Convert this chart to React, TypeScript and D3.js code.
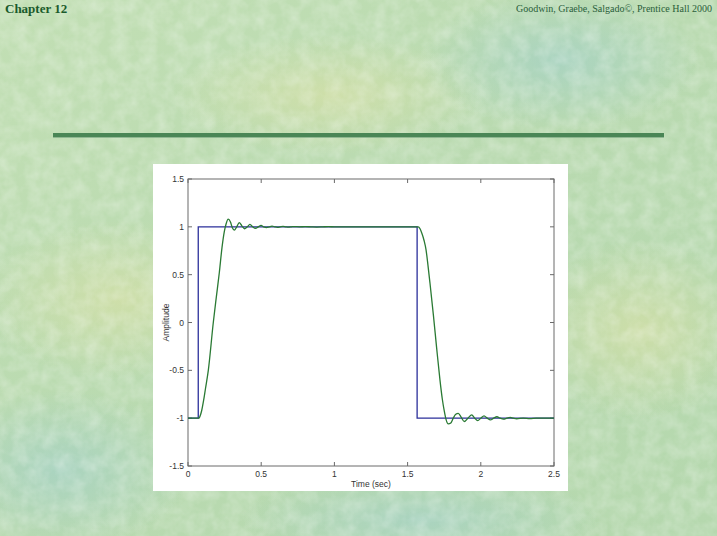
import React from "react";
import * as d3 from "d3";

const W = 717;
const H = 536;

// Axis ticks
const xTicks = [0, 0.5, 1, 1.5, 2, 2.5];
const yTicks = [-1.5, -1, -0.5, 0, 0.5, 1, 1.5];
const xTickLabels = ["0", "0.5", "1", "1.5", "2", "2.5"];
const yTickLabels = ["-1.5", "-1", "-0.5", "0", "0.5", "1", "1.5"];

// Reference square wave (blue)
const refT = [0, 0.07, 0.07, 1.565, 1.565, 2.5];
const refY = [-1, -1, 1, 1, -1, -1];

// System response (green)
const respT = [
  0, 0.075, 0.082, 0.0936, 0.106, 0.1195, 0.1387, 0.1728, 0.193, 0.2138, 0.232, 0.248, 0.26,
  0.275, 0.29, 0.303, 0.316, 0.333, 0.35, 0.368, 0.386, 0.405, 0.423, 0.442, 0.461, 0.48,
  0.499, 0.517, 0.536, 0.555, 0.574, 0.593, 0.611, 0.63, 0.649, 0.668, 0.687, 0.706, 0.725,
  0.76, 0.8, 0.84, 0.88, 0.92, 0.96, 1.0, 1.3, 1.573, 1.585, 1.598, 1.612, 1.626, 1.639,
  1.653, 1.676, 1.698, 1.721, 1.737, 1.751, 1.762, 1.778, 1.795, 1.812, 1.829, 1.846, 1.866,
  1.887, 1.912, 1.938, 1.958, 1.979, 2.0, 2.022, 2.044, 2.066, 2.088, 2.11, 2.132, 2.155,
  2.178, 2.2, 2.222, 2.245, 2.29, 2.335, 2.38, 2.5,
];
const respY = [
  -1, -1, -0.98, -0.92, -0.82, -0.69, -0.5, 0, 0.26, 0.52, 0.78, 0.95, 1.03,
  1.08, 1.05, 0.99, 0.965, 1.0, 1.045, 1.01, 0.98, 1.0, 1.025, 1.0, 0.985, 1.0,
  1.015, 1.0, 0.992, 1.0, 1.008, 1.0, 0.995, 1.0, 1.005, 1.0, 0.997, 1.0, 1.003,
  1.0, 1.002, 1.0, 0.998, 1.0, 1.002, 1.0, 1.0, 1.0, 0.98, 0.93, 0.86, 0.76, 0.6,
  0.41, 0.08, -0.26, -0.6, -0.8, -0.93, -1.01, -1.06, -1.05, -1.0, -0.96, -0.95, -0.99,
  -1.035, -1.0, -0.965, -1.0, -1.025, -1.0, -0.975, -1.0, -1.018, -1.0, -0.985, -1.0, -1.01,
  -1.0, -0.992, -1.0, -1.006, -1.0, -1.004, -1.0, -1.0,
];

export default function App() {
  const plot = { left: 188, right: 554, top: 179, bottom: 466 };
  const x = d3.scaleLinear().domain([0, 2.5]).range([plot.left, plot.right]);
  const y = d3.scaleLinear().domain([-1.5, 1.5]).range([plot.bottom, plot.top]);

  const refLine = d3
    .line<number>()
    .x((_, i) => x(refT[i]))
    .y((d) => y(d))
    .curve(d3.curveLinear);
  const respLine = d3
    .line<number>()
    .x((_, i) => x(respT[i]))
    .y((d) => y(d))
    .curve(d3.curveMonotoneX);

  const axisColor = "#6a6a6a";
  const tickLen = 4;
  const font = "'Liberation Sans', Arial, sans-serif";

  return (
    <svg
      width={W}
      height={H}
      style={{ position: "absolute", left: 0, top: 0, display: "block" }}
    >
      <defs>
        <linearGradient id="bg" x1="0" y1="0" x2="1" y2="1">
          <stop offset="0" stopColor="#c2dfb4" />
          <stop offset="0.5" stopColor="#b9dab0" />
          <stop offset="1" stopColor="#b5d8ae" />
        </linearGradient>
        <radialGradient id="blobY" cx="0.5" cy="0.5" r="0.5">
          <stop offset="0" stopColor="#d6e0a6" stopOpacity="0.7" />
          <stop offset="1" stopColor="#d6e0a6" stopOpacity="0" />
        </radialGradient>
        <radialGradient id="blobB" cx="0.5" cy="0.5" r="0.5">
          <stop offset="0" stopColor="#a6d2c4" stopOpacity="0.8" />
          <stop offset="1" stopColor="#a6d2c4" stopOpacity="0" />
        </radialGradient>
        <filter id="tex" x="0" y="0" width="100%" height="100%">
          <feTurbulence type="fractalNoise" baseFrequency="0.07" numOctaves="3" seed="4" />
          <feColorMatrix
            type="matrix"
            values="0 0 0 0 1  0 0 0 0 1  0 0 0 0 1  0 0 0 -1.6 1.1"
          />
        </filter>
      </defs>

      {/* Background */}
      <rect x={0} y={0} width={W} height={H} fill="url(#bg)" />
      <ellipse cx={330} cy={95} rx={160} ry={60} fill="url(#blobY)" />
      <ellipse cx={120} cy={300} rx={140} ry={80} fill="url(#blobY)" />
      <ellipse cx={640} cy={330} rx={120} ry={90} fill="url(#blobY)" />
      <ellipse cx={560} cy={60} rx={140} ry={70} fill="url(#blobB)" />
      <ellipse cx={60} cy={470} rx={130} ry={80} fill="url(#blobB)" />
      <ellipse cx={420} cy={520} rx={180} ry={50} fill="url(#blobB)" />
      <rect x={0} y={0} width={W} height={H} filter="url(#tex)" opacity={0.3} />

      {/* Header */}
      <text
        x={5}
        y={13}
        fontFamily="'Liberation Serif', 'Times New Roman', serif"
        fontWeight="bold"
        fontSize={13}
        fill="#1a5b2c"
      >
        Chapter 12
      </text>
      <text
        x={712}
        y={12}
        textAnchor="end"
        fontFamily="'Liberation Serif', 'Times New Roman', serif"
        fontSize={10}
        fill="#2a5e3a"
      >
        Goodwin, Graebe, Salgado©, Prentice Hall 2000
      </text>

      {/* Separator bar */}
      <rect x={53} y={133} width={611} height={4} fill="#4a8656" />
      <rect x={53} y={137} width={611} height={1} fill="#7aa882" opacity={0.7} />

      {/* White figure panel */}
      <rect x={153} y={164} width={415} height={327} fill="#ffffff" />

      {/* Axes box */}
      <rect
        x={plot.left}
        y={plot.top}
        width={plot.right - plot.left}
        height={plot.bottom - plot.top}
        fill="none"
        stroke={axisColor}
        strokeWidth={1}
      />

      {/* X ticks */}
      {xTicks.map((t, i) => (
        <g key={"xt" + i}>
          <line x1={x(t)} x2={x(t)} y1={plot.bottom} y2={plot.bottom - tickLen} stroke={axisColor} />
          <line x1={x(t)} x2={x(t)} y1={plot.top} y2={plot.top + tickLen} stroke={axisColor} />
          <text
            x={x(t)}
            y={plot.bottom + 11}
            textAnchor="middle"
            fontFamily={font}
            fontSize={8.5}
            fill="#333"
          >
            {xTickLabels[i]}
          </text>
        </g>
      ))}

      {/* Y ticks */}
      {yTicks.map((t, i) => (
        <g key={"yt" + i}>
          <line x1={plot.left} x2={plot.left + tickLen} y1={y(t)} y2={y(t)} stroke={axisColor} />
          <line x1={plot.right} x2={plot.right - tickLen} y1={y(t)} y2={y(t)} stroke={axisColor} />
          <text
            x={plot.left - 4}
            y={y(t) + 3}
            textAnchor="end"
            fontFamily={font}
            fontSize={8.5}
            fill="#333"
          >
            {yTickLabels[i]}
          </text>
        </g>
      ))}

      {/* Axis labels */}
      <text
        x={(plot.left + plot.right) / 2}
        y={plot.bottom + 21}
        textAnchor="middle"
        fontFamily={font}
        fontSize={8.5}
        fill="#333"
      >
        Time (sec)
      </text>
      <text
        transform={`translate(${169},${(plot.top + plot.bottom) / 2}) rotate(-90)`}
        textAnchor="middle"
        fontFamily={font}
        fontSize={8.5}
        fill="#333"
      >
        Amplitude
      </text>

      {/* Lines */}
      <path d={refLine(refY) || ""} fill="none" stroke="#2b2f9a" strokeWidth={1.3} />
      <path d={respLine(respY) || ""} fill="none" stroke="#2a7a34" strokeWidth={1.3} />
    </svg>
  );
}
